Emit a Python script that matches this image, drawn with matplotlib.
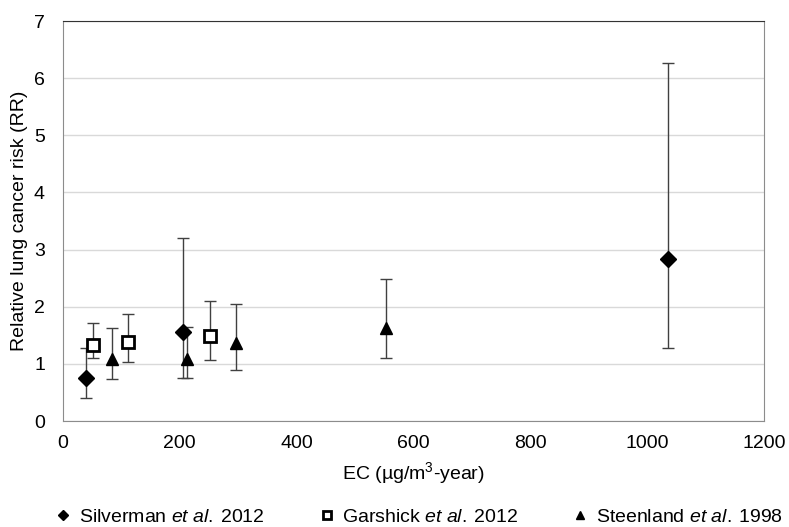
import numpy as np
import matplotlib
matplotlib.use("Agg")
import matplotlib.pyplot as plt

plt.rcParams['font.family'] = ['Liberation Sans', 'DejaVu Sans']
plt.rcParams['mathtext.fontset'] = 'custom'
plt.rcParams['mathtext.rm'] = 'Liberation Sans'
plt.rcParams['mathtext.it'] = 'Liberation Sans:italic'

# Silverman et al. 2012
silv_ec = [39, 205, 1036]
silv_rr = [0.76, 1.55, 2.84]
silv_lo = [0.41, 0.76, 1.28]
silv_hi = [1.28, 3.21, 6.26]

# Garshick et al. 2012
gar_ec = [52, 112, 252]
gar_rr = [1.33, 1.39, 1.49]
gar_lo = [1.10, 1.03, 1.06]
gar_hi = [1.71, 1.88, 2.10]

# Steenland et al. 1998
st_ec = [84, 213, 296, 553]
st_rr = [1.08, 1.09, 1.36, 1.63]
st_lo = [0.73, 0.76, 0.90, 1.10]
st_hi = [1.63, 1.65, 2.04, 2.49]

fig = plt.figure(figsize=(7.89, 5.27), dpi=100)
ax = fig.add_axes([0.0798, 0.2011, 0.8885, 0.7589])


def series(x, y, lo, hi, **kw):
    y = np.array(y)
    err = [y - np.array(lo), np.array(hi) - y]
    ax.errorbar(x, y, yerr=err, fmt='none', ecolor='#404040', elinewidth=1,
                capsize=4, capthick=1, zorder=2)
    return ax.plot(x, y, linestyle='none', zorder=3, **kw)[0]


h1 = series(silv_ec, silv_rr, silv_lo, silv_hi, marker='D', markersize=8,
            color='black')
h2 = series(gar_ec, gar_rr, gar_lo, gar_hi, marker='s', markersize=8.5,
            markerfacecolor='white', markeredgecolor='black', markeredgewidth=2)
h3 = series(st_ec, st_rr, st_lo, st_hi, marker='^', markersize=9,
            color='black')

ax.set_xlim(0, 1200)
ax.set_ylim(0, 7)
ax.set_xticks(np.arange(0, 1201, 200))
ax.set_yticks(np.arange(0, 8, 1))
ax.grid(axis='y', color='#d9d9d9', linewidth=1)
ax.set_axisbelow(True)
for s in ['left', 'right', 'bottom']:
    ax.spines[s].set_color('#8c8c8c')
ax.spines['top'].set_color('#333333')
ax.tick_params(length=0, labelsize=14)
ax.tick_params(axis='x', pad=10)
ax.tick_params(axis='y', pad=13)

ax.set_xlabel('EC (µg/m$^3$-year)', fontsize=14, labelpad=6)
ax.set_ylabel('Relative lung cancer risk (RR)', fontsize=14, labelpad=4)

labels = ['Silverman $\\mathit{et\\ al.}\\:$2012',
          'Garshick $\\mathit{et\\ al.}\\:$2012',
          'Steenland $\\mathit{et\\ al.}\\:$1998']
leg = fig.legend([h1, h2, h3], labels, loc='lower center', ncol=3,
                 bbox_to_anchor=(0.53, -0.012), borderaxespad=0,
                 frameon=False, fontsize=14, handlelength=1.0,
                 handletextpad=0.3, columnspacing=2.7, markerscale=0.6)

fig.savefig('out.png', dpi=100)
